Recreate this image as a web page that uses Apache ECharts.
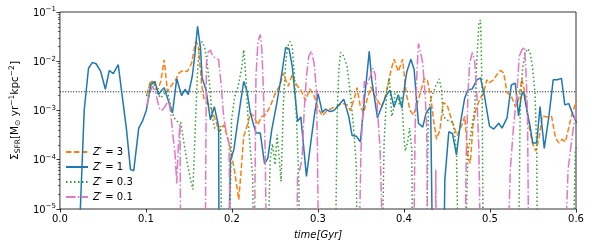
<!DOCTYPE html>
<html>
<head>
<meta charset="utf-8">
<script src="https://cdn.jsdelivr.net/npm/echarts@6/dist/echarts.min.js"></script>
<style>html,body{margin:0;padding:0;background:#fff}#c{width:592px;height:247px}</style>
</head>
<body>
<div id="c"></div>
<script>
// ---- data (time in Gyr, SFR surface density) ----
const seriesNames = ["Z′ = 3", "Z′ = 1", "Z′ = 0.3", "Z′ = 0.1"];
const legendZ = ["3", "1", "0.3", "0.1"];
const thresholdSFR = 2.4e-3;
const xTicks = [0, 0.1, 0.2, 0.3, 0.4, 0.5, 0.6];
const yTickExps = [-5, -4, -3, -2, -1];
const FLOOR = 1e-7; // values below plot floor (drawn off-axis)

const z3Time = [0.1008,0.1058,0.1096,0.1135,0.1173,0.1212,0.125,0.13,0.1346,0.1384,0.1431,0.1481,0.1531,0.1577,0.1607,0.1646,0.1672,0.1711,0.1749,0.1807,0.1853,0.1903,0.1953,0.1999,0.2033,0.2079,0.211,0.2137,0.2175,0.2214,0.2252,0.2302,0.234,0.2386,0.2444,0.2502,0.2559,0.2598,0.2624,0.2655,0.2701,0.2751,0.2801,0.2855,0.2905,0.2955,0.3001,0.3051,0.3109,0.3166,0.3224,0.3281,0.3339,0.3377,0.3424,0.3454,0.3493,0.3531,0.357,0.3616,0.3646,0.3685,0.3742,0.3792,0.3846,0.3884,0.3934,0.3984,0.4026,0.4072,0.4111,0.4149,0.4195,0.4234,0.4272,0.431,0.4349,0.4379,0.4418,0.4456,0.4502,0.4541,0.4579,0.4618,0.4667,0.4706,0.4744,0.4771,0.4802,0.4833,0.4879,0.4925,0.4963,0.4986,0.5044,0.5082,0.5121,0.5159,0.5198,0.5248,0.5294,0.5332,0.537,0.5409,0.5447,0.5493,0.5532,0.557,0.5609,0.5658,0.5716,0.5762,0.5801,0.5839,0.5877,0.5927,0.5966,0.6008];
const z3SFR = [2.1e-3,4.1e-3,3.6e-3,2.6e-3,3.9e-3,1.07e-2,2.45e-3,3.3e-3,4.2e-3,5.8e-3,6.5e-3,6.2e-3,9.1e-3,2.5e-2,2.2e-2,3.6e-3,1.8e-3,1.4e-3,1.2e-3,6.5e-4,3.7e-4,5.1e-4,2.75e-4,1.17e-4,5.4e-5,1.55e-5,7.2e-5,3.0e-4,4.8e-4,8.9e-4,7.6e-4,5.1e-4,7.4e-4,8.1e-4,1.2e-3,2.2e-3,3.3e-3,5.8e-3,4.2e-3,3.1e-3,5.4e-3,3.3e-3,2.6e-3,1.6e-3,2.75e-3,2.0e-3,1.12e-3,7.8e-4,1.0e-3,1.12e-3,1.2e-3,1.4e-3,1.3e-3,1.0e-3,1.8e-3,2.9e-3,1.2e-3,8.9e-4,1.66e-3,3.0e-3,2.2e-3,1.66e-3,1.2e-3,2.2e-3,6.2e-3,1.1e-2,6.2e-3,1.1e-2,2.2e-3,1.0e-3,8.1e-4,1.3e-3,2.45e-3,4.4e-3,4.2e-3,1.95e-3,5.5e-4,2.6e-4,4.1e-4,1.45e-3,1.3e-3,7.6e-4,4.8e-4,3.1e-4,4.8e-4,7.6e-4,1.17e-4,8.5e-5,4.8e-4,1.0e-3,1.66e-3,2.3e-3,4.2e-3,3.6e-3,4.2e-3,5.4e-3,6.5e-3,5.8e-3,2.3e-3,1.95e-3,1.2e-3,1.66e-3,4.4e-3,2.2e-3,5.5e-4,2.2e-4,1.5e-4,2.75e-4,7.8e-4,7.4e-4,7.6e-4,2.75e-4,2.2e-4,2.6e-4,2.3e-4,5.5e-4,1.0e-3,1.6e-3];

const z1Time = [0.0215,0.0282,0.0332,0.0378,0.042,0.0474,0.0528,0.0574,0.062,0.0678,0.0724,0.0774,0.082,0.0858,0.0916,0.0958,0.1004,0.1058,0.1104,0.1146,0.1173,0.1212,0.125,0.1308,0.1358,0.1415,0.1454,0.1492,0.1538,0.1569,0.16,0.1634,0.1653,0.1699,0.1749,0.1795,0.1845,0.1852,0.1945,0.1983,0.2022,0.206,0.2098,0.2137,0.2175,0.2214,0.2252,0.2279,0.2329,0.2379,0.2417,0.2463,0.2521,0.2578,0.2624,0.2663,0.2701,0.2732,0.2763,0.2801,0.2828,0.2866,0.2916,0.2962,0.3001,0.3051,0.3089,0.3139,0.3185,0.3243,0.33,0.3358,0.3397,0.3447,0.3493,0.3539,0.357,0.3596,0.3627,0.3654,0.3692,0.3742,0.3792,0.3838,0.3884,0.3934,0.3976,0.4015,0.4034,0.408,0.4118,0.4149,0.4168,0.4218,0.4257,0.431,0.434,0.4455,0.4475,0.4521,0.4564,0.461,0.4656,0.4706,0.4744,0.4794,0.4848,0.489,0.4936,0.4994,0.5044,0.5102,0.514,0.5198,0.5248,0.5294,0.5332,0.5363,0.539,0.5417,0.5466,0.5497,0.5543,0.5582,0.5631,0.5685,0.5735,0.5785,0.5831,0.587,0.5916,0.5966,0.6008];
const z1SFR = [1e-6,1.0e-3,7.2e-3,9.5e-3,8.9e-3,6.2e-3,2.7e-3,6.5e-3,5.6e-3,8.5e-3,1.95e-3,4.1e-4,6.3e-5,6.0e-5,4.4e-4,6.0e-4,1.0e-3,3.3e-3,3.9e-3,2.1e-3,2.45e-3,2.9e-3,1.8e-3,8.9e-4,4.4e-3,2.0e-3,2.7e-3,2.1e-3,4.9e-3,1.35e-2,5.1e-2,1.9e-2,4.6e-3,2.6e-3,6.5e-4,1.2e-3,4.7e-4,FLOOR,FLOOR,1.0e-4,1.6e-4,4.8e-4,1.4e-3,3.9e-3,2.45e-3,8.9e-4,5.1e-4,3.5e-4,3.5e-4,8.3e-5,1.07e-4,4.1e-4,1.4e-3,5.4e-3,1.9e-2,1.8e-2,7.9e-3,2.2e-3,6.0e-4,7.4e-4,2.3e-4,4.6e-5,2.2e-4,8.9e-4,2.2e-3,9.1e-4,1.07e-3,9.5e-4,1.0e-3,1.3e-3,1.7e-3,7.6e-4,3.1e-4,3.0e-4,2.3e-4,1.66e-3,5.4e-3,1.6e-2,3.9e-3,1.95e-3,7.1e-4,1.2e-3,2.0e-3,2.6e-3,1.17e-3,2.1e-3,1.12e-3,3.9e-3,6.2e-3,1.1e-2,6.8e-3,1.4e-3,5.5e-4,4.6e-4,8.9e-4,1.2e-3,FLOOR,FLOOR,3.9e-5,3.7e-4,3.4e-4,1.26e-4,5.5e-4,1.8e-3,2.6e-3,2.75e-3,4.2e-3,4.6e-3,1.95e-3,4.8e-4,4.2e-4,5.5e-4,4.4e-4,7.1e-4,3.3e-3,3.6e-3,7.8e-4,1.95e-3,2.45e-3,1.3e-3,4.8e-4,2.2e-4,2.2e-4,1.2e-3,1.7e-4,7.6e-4,4.2e-3,4.2e-3,4.5e-3,1.3e-3,1.38e-3,8.1e-4,5.5e-4];

const z03Time = [0.1008,0.1058,0.1096,0.1135,0.1173,0.1212,0.125,0.1288,0.1327,0.1365,0.1404,0.1442,0.1481,0.1519,0.1546,0.1577,0.1603,0.1626,0.1653,0.1684,0.1711,0.1742,0.1768,0.1799,0.1838,0.1868,0.1885,0.196,0.1995,0.2033,0.2072,0.211,0.2137,0.2164,0.2187,0.2214,0.2241,0.2256,0.2405,0.2444,0.2471,0.2502,0.2525,0.2548,0.2571,0.2598,0.2624,0.2648,0.2675,0.2701,0.2724,0.2751,0.2778,0.2793,0.3195,0.3224,0.3243,0.3262,0.33,0.3339,0.3377,0.3416,0.3446,0.3462,0.3735,0.3769,0.38,0.383,0.3857,0.3876,0.3896,0.3922,0.3946,0.3973,0.3999,0.4015,0.4041,0.4065,0.4091,0.4103,0.4255,0.4283,0.4322,0.436,0.441,0.4437,0.4456,0.4495,0.4533,0.4571,0.461,0.464,0.4695,0.4744,0.4783,0.4821,0.4848,0.4871,0.489,0.4909,0.4925,0.5325,0.5351,0.5378,0.5409,0.544,0.5466,0.5493,0.5524,0.5543,0.5555,0.5955,0.5992,0.6008];
const z03SFR = [1.95e-3,3.9e-3,3.3e-3,2.2e-3,1.8e-3,2.2e-3,2.45e-3,1.2e-3,7.1e-4,6.0e-4,5.8e-4,2.2e-4,8.5e-5,3.9e-5,2.5e-5,6.5e-4,7.9e-3,2.2e-2,2.5e-2,1.9e-2,9.1e-3,3.1e-3,8.1e-4,4.4e-4,4.1e-4,4.8e-4,FLOOR,FLOOR,6.5e-4,1.95e-3,3.1e-3,6.8e-3,1.7e-2,4.2e-3,6.5e-4,1.6e-4,4.6e-5,FLOOR,FLOOR,1.0e-4,2.1e-4,7.9e-5,3.2e-4,1.17e-4,3.6e-5,1.4e-3,9.1e-3,2.0e-2,2.5e-2,2.0e-2,5.8e-3,6.5e-4,3.3e-5,FLOOR,FLOOR,1.0e-3,6.8e-3,1.5e-2,1.26e-2,7.9e-3,2.2e-3,4.1e-4,7.2e-5,FLOOR,FLOOR,2.2e-4,2.45e-3,4.6e-3,7.6e-4,1.0e-3,2.2e-3,2.45e-3,1.3e-3,1.95e-3,3.0e-4,1.5e-4,2.2e-4,4.4e-4,1.6e-4,FLOOR,FLOOR,1.0e-3,1.95e-3,2.9e-3,4.4e-3,2.6e-3,7.6e-4,6.5e-4,6.0e-4,5.8e-4,1.6e-4,FLOOR,FLOOR,1.35e-4,4.1e-4,1.0e-3,1.07e-2,6.0e-2,6.9e-2,2.2e-3,FLOOR,FLOOR,1.0e-3,6.8e-3,1.5e-2,1.8e-2,1.5e-2,7.9e-3,2.2e-3,1.6e-4,FLOOR,FLOOR,1.6e-4,1.8e-4];

const z01Time = [0.1008,0.1039,0.1077,0.1116,0.1154,0.1185,0.1223,0.1262,0.1288,0.1315,0.1338,0.1358,0.1377,0.1396,0.1407,0.1685,0.1703,0.1722,0.1749,0.1776,0.1814,0.1845,0.1876,0.1903,0.1941,0.1965,0.199,0.2255,0.2279,0.2302,0.2329,0.2348,0.2367,0.2386,0.241,0.2745,0.2763,0.279,0.2816,0.284,0.2866,0.2893,0.2924,0.2955,0.2982,0.2993,0.3013,0.3465,0.35,0.3523,0.3539,0.357,0.3608,0.3639,0.3665,0.3692,0.3723,0.3769,0.4105,0.413,0.4149,0.4168,0.4187,0.4218,0.4245,0.4264,0.4283,0.436,0.437,0.438,0.47,0.4725,0.4744,0.4763,0.4794,0.4821,0.4848,0.4871,0.4898,0.519,0.5236,0.5274,0.5313,0.534,0.5371,0.5401,0.5417,0.5436,0.5455,0.585,0.5908,0.5946,0.5977,0.6008];
const z01SFR = [1.2e-3,2.2e-3,3.1e-3,2.2e-3,1.12e-3,1.0e-3,1.2e-3,1.66e-3,8.9e-4,3.0e-4,1.35e-4,3.3e-5,1.9e-4,5.5e-4,FLOOR,FLOOR,9.1e-3,1.5e-2,1.7e-2,1.26e-2,1.15e-2,1.07e-2,3.1e-3,7.6e-4,3.0e-4,2.2e-4,FLOOR,FLOOR,4.9e-3,2.5e-2,3.5e-2,1.7e-2,2.2e-3,1.6e-4,FLOOR,FLOOR,5.4e-5,6.3e-5,1.17e-4,1.0e-3,4.9e-3,1.26e-2,1.6e-2,9.1e-3,2.6e-3,2.2e-4,FLOOR,FLOOR,1.6e-4,1.0e-3,3.9e-3,3.3e-3,4.9e-3,7.2e-3,5.4e-3,1.0e-3,1.6e-4,FLOOR,FLOOR,4.8e-4,4.9e-3,2.3e-2,1.7e-2,9.1e-3,2.2e-3,4.8e-4,FLOOR,FLOOR,6.3e-5,FLOOR,FLOOR,1.6e-4,2.2e-3,9.1e-3,1.5e-2,1.07e-2,1.95e-3,1.6e-4,FLOOR,FLOOR,6.3e-5,4.8e-4,2.2e-3,1.26e-2,1.7e-2,1.95e-2,6.8e-3,1.0e-3,FLOOR,FLOOR,6.3e-5,2.2e-4,5.5e-4,1.12e-3];

// ---- build ----
const zip = (t, v) => t.map((x, i) => [x, v[i]]);
const minorTicks = [];
for (let e = -5; e < -1; e++) for (let m = 2; m <= 9; m++) minorTicks.push(m * Math.pow(10, e));

const FONT = 'DejaVu Sans';
const colors = ['#ff7f0e', '#1f77b4', '#2ca02c', '#e377c2'];
const dashes = [[5.5, 2.4], 'solid', [1.5, 2.5], [9.6, 2.4, 1.5, 2.4]];
const allData = [zip(z3Time, z3SFR), zip(z1Time, z1SFR), zip(z03Time, z03SFR), zip(z01Time, z01SFR)];

const series = allData.map((d, i) => ({
  name: seriesNames[i], type: 'line', data: d, showSymbol: false, symbol: 'none',
  clip: true, animation: false, z: 3 + i,
  lineStyle: { color: colors[i], width: 1.5, type: dashes[i], cap: 'butt' },
  itemStyle: { color: colors[i] }
}));
series.push({
  name: 'threshold', type: 'line', data: [[xTicks[0], thresholdSFR], [xTicks[xTicks.length - 1], thresholdSFR]],
  showSymbol: false, symbol: 'none', animation: false, z: 2,
  lineStyle: { color: '#000', width: 1, type: [1, 1.65] }
});

const chart = echarts.init(document.getElementById('c'), null, { renderer: 'canvas' });
chart.setOption({
  animation: false,
  backgroundColor: '#fff',
  textStyle: { fontFamily: FONT },
  grid: { left: 54, right: 16, top: 12, bottom: 38, show: true, borderColor: '#000', borderWidth: 0.8, backgroundColor: 'transparent' },
  legend: {
    data: seriesNames, orient: 'vertical', left: 60, top: 142, itemWidth: 22, itemHeight: 10, itemGap: 5,
    itemStyle: { opacity: 0 },
    textStyle: { fontFamily: FONT, fontSize: 10, color: '#000', rich: { i: { fontStyle: 'italic', fontFamily: FONT, fontSize: 10, color: '#000' } } },
    formatter: (name) => '{i|Z}′ = ' + legendZ[seriesNames.indexOf(name)]
  },
  xAxis: {
    type: 'value', min: xTicks[0], max: xTicks[xTicks.length - 1], interval: 0.1,
    name: 'time[Gyr]', nameLocation: 'middle', nameGap: 21,
    nameTextStyle: { fontFamily: FONT, fontSize: 10, fontStyle: 'italic', color: '#000' },
    axisLine: { show: false }, splitLine: { show: false },
    axisTick: { show: true, length: 3.5, lineStyle: { color: '#000', width: 0.8 } },
    axisLabel: { fontFamily: FONT, fontSize: 10, color: '#000', margin: 5, formatter: v => v.toFixed(1) }
  },
  yAxis: [{
    type: 'log', logBase: 10, min: Math.pow(10, yTickExps[0]), max: Math.pow(10, yTickExps[yTickExps.length - 1]),
    name: 'Σ{sub|SFR}[M{sub|⊙} yr{sup|−1}kpc{sup|−2}]', nameLocation: 'middle', nameRotate: 90, nameGap: 36,
    nameTextStyle: {
      fontFamily: FONT, fontSize: 10.5, color: '#000', lineHeight: 14,
      rich: {
        sub: { fontSize: 7.5, verticalAlign: 'bottom', lineHeight: 14, fontFamily: FONT, color: '#000' },
        sup: { fontSize: 7.5, verticalAlign: 'top', lineHeight: 14, fontFamily: FONT, color: '#000' }
      }
    },
    axisLine: { show: false }, splitLine: { show: false },
    axisTick: { show: true, length: 3.5, lineStyle: { color: '#000', width: 0.8 } },
    axisLabel: {
      fontFamily: FONT, color: '#000', margin: 4,
      formatter: v => '{b|10}{s|−' + Math.round(-Math.log10(v)) + '}',
      rich: { b: { fontSize: 10, fontFamily: FONT, color: '#000', lineHeight: 12, verticalAlign: 'bottom' },
              s: { fontSize: 7, fontFamily: FONT, color: '#000', lineHeight: 12, verticalAlign: 'top' } }
    }
  }, {
    type: 'log', logBase: 10, min: Math.pow(10, yTickExps[0]), max: Math.pow(10, yTickExps[yTickExps.length - 1]),
    position: 'left', axisLine: { show: false }, splitLine: { show: false }, axisLabel: { show: false },
    axisTick: { show: true, length: 2, customValues: minorTicks, lineStyle: { color: '#000', width: 0.6 } }
  }],
  series: series
});
</script>
</body>
</html>
